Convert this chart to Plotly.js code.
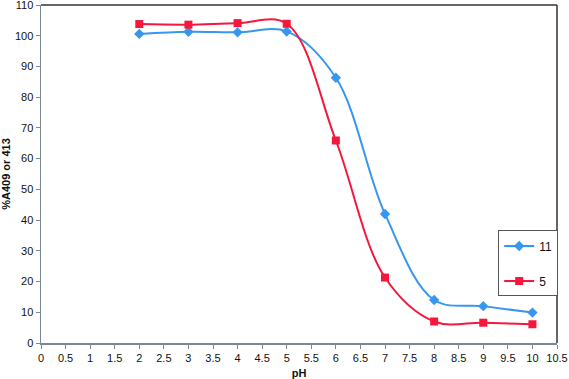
<!DOCTYPE html>
<html><head><meta charset="utf-8">
<script src="https://cdn.plot.ly/plotly-3.0.1.min.js"></script>
<style>html,body{margin:0;padding:0;background:#fff}</style>
</head><body><div id="chart" style="width:569px;height:379px"></div>
<script>
const ph = [2, 3, 4, 5, 6, 7, 8, 9, 10];
const series11 = [100.6, 101.3, 101.1, 101.4, 86.3, 42.0, 14.0, 12.0, 9.9];
const series5 = [103.8, 103.6, 104.1, 103.9, 65.9, 21.3, 7.0, 6.6, 6.1];
const names = ["11", "5"];
const xTicks = [0,0.5,1,1.5,2,2.5,3,3.5,4,4.5,5,5.5,6,6.5,7,7.5,8,8.5,9,9.5,10,10.5];
const yTicks = [0,10,20,30,40,50,60,70,80,90,100,110];

const traces = [
  {x: ph, y: series11, name: names[0], mode: 'lines+markers', legendgroup: 'a',
   line: {shape: 'spline', smoothing: 1, color: '#3796ee', width: 2},
   marker: {symbol: 'diamond', size: 8, color: '#3796ee'}},
  {x: ph, y: series5, name: names[1], mode: 'lines+markers', legendgroup: 'b',
   line: {shape: 'spline', smoothing: 1, color: '#f5183c', width: 2},
   marker: {symbol: 'square', size: 8, color: '#f5183c'}}
];
const axisFont = {family: 'Liberation Sans, Arial, sans-serif', size: 11, color: '#111'};
const layout = {
  width: 569, height: 379,
  margin: {l: 41, r: 12, t: 5, b: 36},
  paper_bgcolor: '#fff', plot_bgcolor: '#fff',
  showlegend: true,
  legend: {x: 0.886, y: 0.333, xanchor: 'left', yanchor: 'top', bgcolor: '#fff',
    bordercolor: '#555', borderwidth: 1, traceorder: 'grouped', tracegroupgap: 16,
    font: {family: 'Liberation Sans, Arial, sans-serif', size: 12, color: '#111'},
    itemwidth: 30},
  xaxis: {range: [0, 10.5], tickvals: xTicks, ticktext: xTicks.map(String), showgrid: false, zeroline: false,
    showline: true, linecolor: '#7a8896', linewidth: 1.5, ticks: 'outside', ticklen: 4, tickcolor: '#7a8896',
    tickfont: axisFont, automargin: false, ticklabeloverflow: 'allow',
    title: {text: '<b>pH</b>', font: {family: 'Liberation Sans, Arial, sans-serif', size: 11, color: '#111'}, standoff: 6}},
  yaxis: {range: [0, 110], tickvals: yTicks, ticktext: yTicks.map(String), showgrid: false, zeroline: false,
    showline: true, linecolor: '#7a8896', linewidth: 1.5, ticks: 'outside', ticklen: 4, tickcolor: '#7a8896',
    tickfont: axisFont, automargin: false, ticklabeloverflow: 'allow',
    title: {text: '<b>%A409 or 413</b>', font: {family: 'Liberation Sans, Arial, sans-serif', size: 11, color: '#111'}, standoff: 8}},
  shapes: [
    {type: 'line', xref: 'paper', yref: 'paper', x0: 0, x1: 1, y0: 1, y1: 1, line: {color: '#333', width: 1.5}},
    {type: 'line', xref: 'paper', yref: 'paper', x0: 1, x1: 1, y0: 0, y1: 1, line: {color: '#333', width: 1.5}}
  ]
};
Plotly.newPlot('chart', traces, layout, {displayModeBar: false, staticPlot: true});
</script></body></html>
